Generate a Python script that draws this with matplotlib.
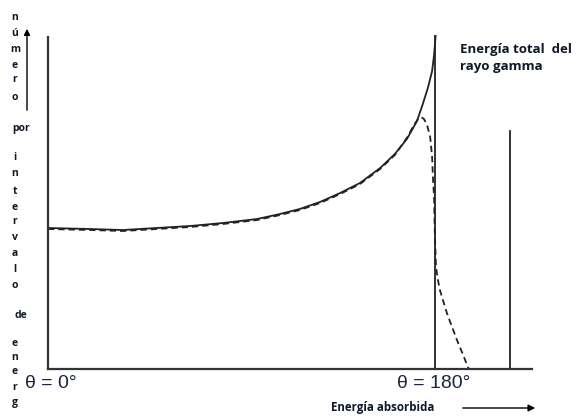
import matplotlib
matplotlib.use("Agg")
import matplotlib.pyplot as plt
from matplotlib.patches import FancyArrowPatch

# Energy in units of the Compton edge, counts in arbitrary units
solid_x = [0.0, 0.108, 0.193, 0.280, 0.366, 0.451, 0.539, 0.598, 0.649, 0.701, 0.753, 0.804,
           0.856, 0.894, 0.925, 0.951, 0.966, 0.979, 0.990, 0.995, 0.999]
solid_y = [1.41, 1.40, 1.39, 1.41, 1.43, 1.46, 1.50, 1.55, 1.60, 1.67, 1.76, 1.86,
           2.01, 2.15, 2.30, 2.48, 2.65, 2.81, 2.98, 3.14, 3.33]
edge_x = [0.998, 0.998]
edge_y = [3.33, 0.0]

dash_x = [0.0, 0.108, 0.193, 0.280, 0.366, 0.451, 0.539, 0.598, 0.649, 0.701, 0.753, 0.804,
          0.856, 0.894, 0.912, 0.928, 0.943, 0.954, 0.961, 0.969, 0.977, 0.985, 0.990, 0.992,
          0.995, 0.997, 1.0, 1.005, 1.010, 1.028, 1.054, 1.070, 1.082, 1.085]
dash_y = [1.40, 1.39, 1.38, 1.40, 1.42, 1.45, 1.49, 1.54, 1.59, 1.66, 1.75, 1.85,
          2.00, 2.14, 2.24, 2.33, 2.44, 2.50, 2.52, 2.50, 2.44, 2.32, 2.12, 1.92,
          1.72, 1.36, 1.02, 0.89, 0.79, 0.56, 0.29, 0.14, 0.02, 0.0]

peak_x = [1.19, 1.19]
peak_y = [0.0, 2.38]

y_label_letters = ["n", "ú", "m", "e", "r", "o", "por", "i", "n", "t", "e", "r", "v", "a", "l", "o",
                   "de", "e", "n", "e", "r", "g"]
y_label_pos = [18, 33, 50, 65, 80, 97, 128, 157, 173, 192, 207, 222, 237, 253, 270, 285,
               315, 343, 358, 372, 387, 402]

W, H = 577, 418
fig = plt.figure(figsize=(W / 100, H / 100), dpi=100)
fig.patch.set_facecolor("white")

left, right, top, bottom = 48, 532, 37, 369
ax = fig.add_axes([left / W, 1 - bottom / H, (right - left) / W, (bottom - top) / H])
ax.set_xlim(0, (right - left) / 388)
ax.set_ylim(0, (bottom - top) / 100)
ax.set_xticks([])
ax.set_yticks([])
for s in ["top", "right"]:
    ax.spines[s].set_visible(False)
for s in ["left", "bottom"]:
    ax.spines[s].set_color("#333333")
    ax.spines[s].set_linewidth(1.6)

line_col = "#222222"
ax.plot(solid_x, solid_y, color=line_col, lw=1.3, clip_on=False, solid_joinstyle="round")
ax.plot(edge_x, edge_y, color=line_col, lw=1.3, clip_on=False)
ax.plot(dash_x, dash_y, color=line_col, lw=1.3, ls=(0, (3.5, 2.2)), clip_on=False)
ax.plot(peak_x, peak_y, color=line_col, lw=1.3, clip_on=False)

txt_col = "#0f1729"
font = "Liberation Sans"
bold_font = "Open Sans"


def fx(px):
    return px / W


def fy(py):
    return 1 - py / H


fig.text(fx(25), fy(383), "θ = 0°", fontsize=14, family=font, color="#1a2540", va="center", ha="left")
fig.text(fx(397), fy(383), "θ = 180°", fontsize=14, family=font, color="#1a2540", va="center", ha="left")

fig.text(fx(460), fy(58), "Energía total  del\nrayo gamma", fontsize=9.5, family=bold_font,
         weight="bold", color=txt_col, va="center", ha="left", linespacing=1.35)

fig.text(fx(383), fy(408), "Energía absorbida", fontsize=8.3, family=bold_font, weight="bold",
         color=txt_col, va="center", ha="center")
fig.add_artist(FancyArrowPatch((fx(460), fy(408)), (fx(538), fy(408)),
               transform=fig.transFigure, arrowstyle="-|>", mutation_scale=10, color="black", lw=1))

for letter, py in zip(y_label_letters, y_label_pos):
    xpos = 15 if len(letter) == 1 else 21
    fig.text(fx(xpos), fy(py), letter, fontsize=7.5, family=bold_font, weight="bold",
             color=txt_col, va="center", ha="center")

fig.add_artist(FancyArrowPatch((fx(27), fy(113)), (fx(27), fy(26)),
               transform=fig.transFigure, arrowstyle="-|>", mutation_scale=9, color="black", lw=1))

fig.savefig("out.png", dpi=100, facecolor="white")
